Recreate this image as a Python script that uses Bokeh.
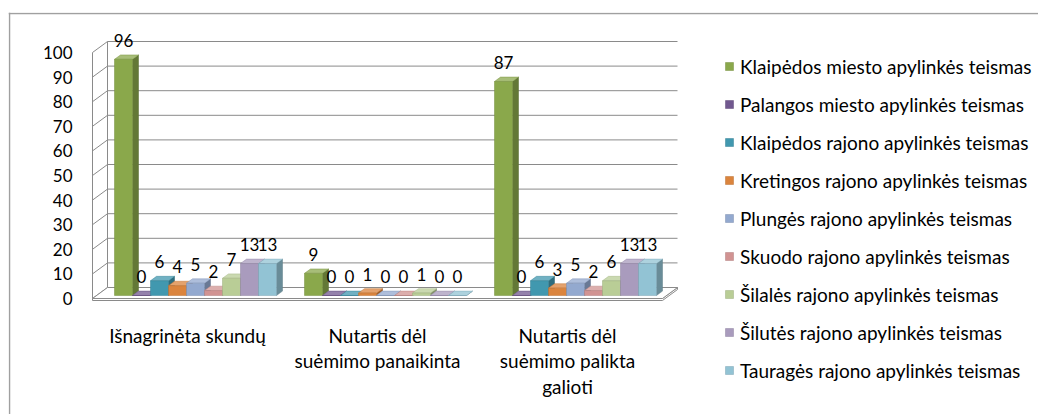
from bokeh.plotting import figure
from bokeh.models import ColumnDataSource, Legend, LegendItem, FixedTicker, Span
from bokeh.embed import file_html
from bokeh.resources import INLINE
from bokeh.core.properties import value

# ---------------- data ----------------
categories = [
    "Išnagrinėta skundų",
    "Nutartis dėl\nsuėmimo panaikinta",
    "Nutartis dėl\nsuėmimo palikta\ngalioti",
]
series_names = [
    "Klaipėdos miesto apylinkės teismas",
    "Palangos miesto apylinkės teismas",
    "Klaipėdos rajono apylinkės teismas",
    "Kretingos rajono apylinkės teismas",
    "Plungės rajono apylinkės teismas",
    "Skuodo rajono apylinkės teismas",
    "Šilalės rajono apylinkės teismas",
    "Šilutės rajono apylinkės teismas",
    "Tauragės rajono apylinkės teismas",
]
klaipedos_miesto = [96, 9, 87]
palangos_miesto = [0, 0, 0]
klaipedos_rajono = [6, 0, 6]
kretingos_rajono = [4, 1, 3]
plunges_rajono = [5, 0, 5]
skuodo_rajono = [2, 0, 2]
silales_rajono = [7, 1, 6]
silutes_rajono = [13, 0, 13]
taurages_rajono = [13, 0, 13]
series_values = [klaipedos_miesto, palangos_miesto, klaipedos_rajono,
                 kretingos_rajono, plunges_rajono, skuodo_rajono,
                 silales_rajono, silutes_rajono, taurages_rajono]
y_ticks = [0, 10, 20, 30, 40, 50, 60, 70, 80, 90, 100]

# ---------------- styles ----------------
colors = ["#8AA84B", "#71588F", "#4198AF", "#DB843D", "#93A9CF",
          "#D19392", "#B9CD96", "#A99BBD", "#92C3D4"]
FONT = "Lato"
GRID = "#8A8A8A"


def shade(hexcol, f):
    h = hexcol.lstrip("#")
    r, g, b = (int(h[i:i + 2], 16) for i in (0, 2, 4))
    if f < 1:
        r, g, b = (int(c * f) for c in (r, g, b))
    else:
        t = f - 1
        r, g, b = (int(c + (255 - c) * t) for c in (r, g, b))
    return "#%02x%02x%02x" % (r, g, b)


CAT_PX = 190.0   # pixels per category
VAL_PX = 2.46    # pixels per value unit
PX = 1.0 / CAT_PX
PY = 1.0 / VAL_PX

BAR_W = 18 * PX
FRONT_DX, FRONT_DY = 8 * PX, 3 * PY
BAR_DX, BAR_DY = 6 * PX, 4.4 * PY
WALL_DX, WALL_DY = 15 * PX, 11 * PY

n_cat = len(categories)
n_ser = len(series_names)

FRAME_W, FRAME_H = 1030, 402
x_start = -0.5 - 84 * PX
y_start = -116 * PY

p = figure(frame_width=FRAME_W, frame_height=FRAME_H,
           x_range=(x_start, x_start + FRAME_W * PX),
           y_range=(y_start, y_start + FRAME_H * PY),
           output_backend="svg", toolbar_location=None,
           min_border_left=8, min_border_right=0,
           min_border_top=12, min_border_bottom=0)
p.outline_line_color = None
p.grid.visible = False
p.background_fill_color = "white"
p.border_fill_color = "white"

# chart border (left + top visible)
p.add_layout(Span(location=x_start + 1.0 * PX, dimension="height",
                  line_color="#A0A0A0", line_width=1.5))
p.add_layout(Span(location=y_start + (FRAME_H - 1.0) * PY, dimension="width",
                  line_color="#A0A0A0", line_width=1.5))

# ---------------- walls & floor ----------------
wx0, wx1 = -0.5, n_cat - 0.5
ymax = max(y_ticks)
nt = len(y_ticks)
p.segment(x0=[wx0 + WALL_DX] * nt, y0=[t + WALL_DY for t in y_ticks],
          x1=[wx1 + WALL_DX] * nt, y1=[t + WALL_DY for t in y_ticks],
          line_color=GRID, line_width=1)
p.segment(x0=[wx0] * nt, y0=y_ticks,
          x1=[wx0 + WALL_DX] * nt, y1=[t + WALL_DY for t in y_ticks],
          line_color=GRID, line_width=1)
p.segment(x0=[wx0, wx0 + WALL_DX], y0=[0, WALL_DY],
          x1=[wx0, wx0 + WALL_DX], y1=[ymax, ymax + WALL_DY],
          line_color=GRID, line_width=1)
# floor (thin slab)
p.patch(x=[wx0, wx1, wx1 + WALL_DX, wx1 + WALL_DX, wx1, wx0],
        y=[0, 0, WALL_DY, WALL_DY - 2 * PY, -2 * PY, -2 * PY],
        fill_color="white", line_color=GRID, line_width=1)
p.patch(x=[wx0, wx1, wx1 + WALL_DX, wx0 + WALL_DX],
        y=[0, 0, WALL_DY, WALL_DY],
        fill_color="white", line_color=GRID, line_width=1)

# ---------------- bars ----------------
front_renderers = []
label_x, label_y, label_t = [], [], []
for j in range(n_ser):
    vals = series_values[j]
    xl = [i - n_ser / 2 * BAR_W + j * BAR_W + FRONT_DX for i in range(n_cat)]
    xr = [x + BAR_W for x in xl]
    bot = [FRONT_DY] * n_cat
    top = [v + FRONT_DY for v in vals]
    side_xs = [[xr[i], xr[i] + BAR_DX, xr[i] + BAR_DX, xr[i]] for i in range(n_cat)]
    side_ys = [[bot[i], bot[i] + BAR_DY, top[i] + BAR_DY, top[i]] for i in range(n_cat)]
    top_xs = [[xl[i], xr[i], xr[i] + BAR_DX, xl[i] + BAR_DX] for i in range(n_cat)]
    top_ys = [[top[i], top[i], top[i] + BAR_DY, top[i] + BAR_DY] for i in range(n_cat)]
    p.patches(xs=side_xs, ys=side_ys, fill_color=shade(colors[j], 0.72),
              line_color=shade(colors[j], 0.65), line_width=0.5)
    p.patches(xs=top_xs, ys=top_ys, fill_color=shade(colors[j], 1.25),
              line_color=shade(colors[j], 0.9), line_width=0.5)
    src = ColumnDataSource(dict(left=xl, right=xr, bottom=bot, top=top))
    r = p.quad(left="left", right="right", bottom="bottom", top="top", source=src,
               fill_color=colors[j], line_color=shade(colors[j], 0.85), line_width=0.5)
    front_renderers.append(r)
    for i in range(n_cat):
        label_x.append((xl[i] + xr[i]) / 2)
        label_y.append(top[i] + 19 * PY)
        label_t.append(str(vals[i]))

p.text(x=label_x, y=label_y, text=label_t, text_font=value(FONT),
       text_font_size="17px", text_align="center", text_baseline="alphabetic",
       text_color="black")

# ---------------- axes ----------------
ya = p.yaxis[0]
ya.fixed_location = -0.5
ya.ticker = FixedTicker(ticks=y_ticks)
ya.axis_line_color = None
ya.major_tick_out = 0
ya.major_tick_in = 0
ya.minor_tick_out = 0
ya.minor_tick_in = 0
ya.major_label_standoff = 20
ya.major_label_text_font = FONT
ya.major_label_text_font_size = "17px"
ya.major_label_text_color = "black"

xa = p.xaxis[0]
xa.fixed_location = 0
xa.ticker = FixedTicker(ticks=list(range(n_cat)))
xa.major_label_overrides = {i: categories[i] for i in range(n_cat)}
xa.axis_line_color = None
xa.major_tick_out = 0
xa.major_tick_in = 0
xa.minor_tick_out = 0
xa.minor_tick_in = 0
xa.major_label_standoff = 25
xa.major_label_text_font = FONT
xa.major_label_text_font_size = "19px"
xa.major_label_text_color = "black"
xa.major_label_text_line_height = 1.12

# ---------------- legend ----------------
legend = Legend(items=[LegendItem(label=series_names[j], renderers=[front_renderers[j]])
                       for j in range(n_ser)],
                location=(716, 32), glyph_width=10, glyph_height=10,
                label_standoff=6, label_height=24, spacing=14,
                padding=0, margin=0, border_line_color=None,
                background_fill_alpha=0,
                label_text_font=FONT, label_text_font_size="19px",
                label_text_color="black")
p.add_layout(legend)

open("out.html", "w").write(file_html(p, INLINE))
